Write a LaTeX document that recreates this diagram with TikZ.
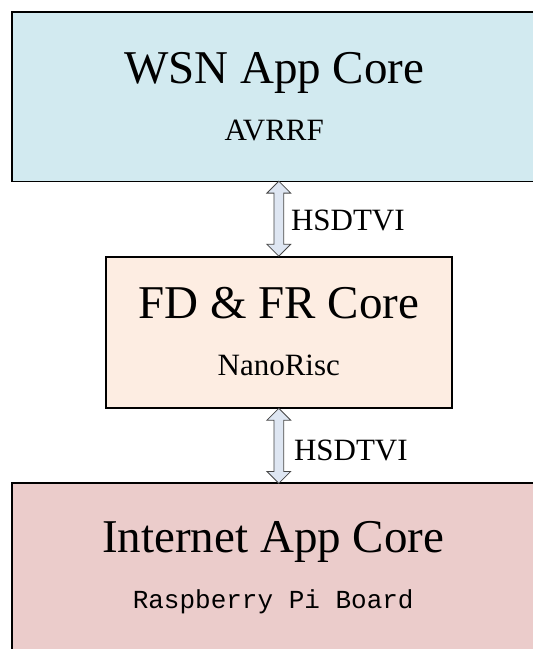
\documentclass[tikz,border=0pt]{standalone}
\usepackage{fontspec}
\setmainfont{Liberation Serif}
\setmonofont{Liberation Mono}
\usetikzlibrary{shapes.arrows,calc}

\definecolor{wsnfill}{RGB}{210,234,240}
\definecolor{fdfill}{RGB}{253,237,226}
\definecolor{inetfill}{RGB}{235,204,203}
\definecolor{linkfill}{RGB}{222,230,242}
\definecolor{linkdraw}{RGB}{70,70,70}

\tikzset{
	corebox/.style={rectangle, inner sep=0pt, anchor=north west},
	coreline/.style={draw=black, line width=1.6pt},
	coretitle/.style={font=\fontsize{47}{56}\selectfont, anchor=base, inner sep=0pt},
	coresub/.style={font=\fontsize{31}{37}\selectfont, anchor=base, inner sep=0pt},
	link/.style={double arrow, draw=linkdraw, fill=linkfill, line width=0.8pt, rotate=90,
			inner xsep=0pt, inner ysep=4.5pt, double arrow head extend=7pt, minimum height=75pt},
	linklabel/.style={font=\fontsize{31}{37}\selectfont, anchor=west, inner sep=0pt}
}

\begin{document}
\begin{tikzpicture}[x=1pt, y=1pt]
		\useasboundingbox (0,0) rectangle (533,-649);
		\clip (0,0) rectangle (533,-649);

		% the three cores (the outer two run past the right and bottom edges)
		\node[corebox, fill=wsnfill, minimum width=540pt, minimum height=169pt] (wsn) at (12,-12) {};
		\draw[coreline] (wsn.north east) -- (wsn.north west) -- (wsn.south west) -- (wsn.south east);
		\node[coretitle] (wsntitle) at ([xshift=-8pt, yshift=-71pt]wsn.north) {WSN App Core};
		\node[coresub] (wsnsub) at ([xshift=-8pt, yshift=-128pt]wsn.north) {AVRRF};

		\node[corebox, coreline, fill=fdfill, minimum width=346pt, minimum height=151pt] (fd) at (105,-256) {};
		\node[coretitle] (fdtitle) at ([yshift=-62pt]fd.north) {FD \& FR Core};
		\node[coresub] (fdsub) at ([yshift=-119pt]fd.north) {NanoRisc};

		\node[corebox, fill=inetfill, minimum width=540pt, minimum height=200pt] (inet) at (12,-483) {};
		\draw[coreline] (inet.north east) -- (inet.north west) -- (inet.south west);
		\node[coretitle] (inettitle) at ([xshift=-9pt, yshift=-69pt]inet.north) {Internet App Core};
		\node[coresub, font=\ttfamily\fontsize{26}{31}\selectfont] (inetsub) at ([xshift=-9pt, yshift=-125pt]inet.north) {Raspberry Pi Board};

		% links between the cores
		\node[link] (lnk1) at ($(fd.north)!0.5!(fd.north |- wsn.south)$) {};
		\node[linklabel] (lnk1lab) at ([xshift=12pt, yshift=-2pt]lnk1.center) {HSDTVI};

		\node[link] (lnk2) at ($(fd.south)!0.5!(fd.south |- inet.north)$) {};
		\node[linklabel] (lnk2lab) at ([xshift=15pt, yshift=-5pt]lnk2.center) {HSDTVI};
	\end{tikzpicture}
\end{document}
